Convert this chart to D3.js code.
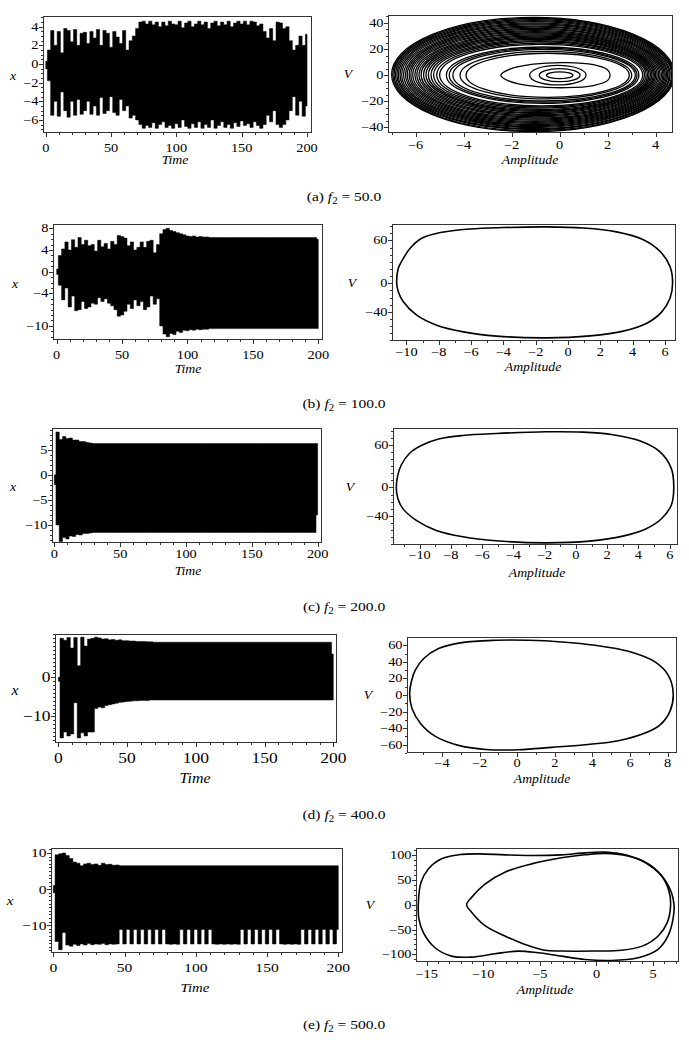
<!DOCTYPE html>
<html><head><meta charset="utf-8">
<script src="https://cdn.jsdelivr.net/npm/d3@7"></script>
<style>body{margin:0;background:#fff}svg{display:block}</style>
</head><body>
<svg id="c" width="689" height="1040"></svg>
<script>
// ---------- DATA ----------
const tStep = 2.5; // time spacing of the read envelope extrema (0..200)

// (a) f2 = 50 : upper / lower extrema of x(t)
const aUpper = [0.3,1.5,3.6,2.0,3.5,1.2,3.8,3.6,2.4,3.7, 2.0,3.3,3.4,2.2,3.5,2.8,3.7,2.0,3.6,3.3,
  1.8,3.5,2.9,2.2,3.6,1.5,2.5,3.0,3.8,4.5, 4.6,4.3,4.6,4.2,4.5,4.0,4.5,4.1,4.6,4.3,
  4.2,4.6,3.9,4.4,4.6,4.0,4.3,4.6,4.2,4.5, 3.8,4.4,4.6,4.1,4.5,4.2,4.6,4.0,4.4,4.6,
  4.3,4.6,4.2,4.6,4.5,4.1,4.3,3.5,2.8,3.8, 2.5,4.5,4.4,3.8,4.0,2.5,1.5,2.0,3.0,2.0, 3.2];
const aLower = [-0.5,-1.8,-5.5,-4.0,-5.6,-3.0,-5.0,-5.7,-4.0,-5.5, -3.8,-5.4,-5.0,-4.0,-5.4,-4.5,-5.5,-3.6,-5.3,-5.0,
  -3.5,-5.2,-5.5,-3.8,-5.0,-4.5,-5.8,-5.5,-6.0,-6.5, -6.9,-6.6,-6.8,-6.3,-6.9,-6.5,-6.2,-6.8,-6.6,-6.9,
  -6.4,-6.8,-6.0,-6.7,-6.9,-6.4,-6.8,-6.2,-6.9,-6.5, -6.8,-6.0,-6.9,-6.6,-6.2,-6.8,-6.5,-6.9,-6.3,-6.7,
  -6.1,-6.6,-6.4,-6.8,-6.2,-6.6,-6.9,-6.5,-5.5,-6.2, -5.0,-6.5,-6.8,-6.5,-6.0,-5.0,-3.5,-5.5,-4.0,-5.6, -4.5];
// phase loops (a): [xmin, xmax, vmax, vmin]
const aLoops = [
  [-7.0,4.78,44.2,-43.2],[-6.95,4.74,43.4,-42.5],[-6.9,4.7,42.6,-41.6],[-6.84,4.66,41.8,-41],
  [-6.78,4.6,41,-40.1],[-6.72,4.56,40.1,-39.4],[-6.65,4.5,39.3,-38.5],[-6.58,4.45,38.5,-37.8],
  [-6.5,4.4,37.6,-36.9],[-6.42,4.35,36.8,-36.1],[-6.35,4.3,35.9,-35.3],[-6.27,4.24,35.1,-34.4],
  [-6.2,4.18,34.2,-33.6],[-6.12,4.12,33.4,-32.8],[-6.03,4.06,32.5,-31.9],[-5.95,4.0,31.7,-31.1],
  [-5.86,3.95,30.8,-30.3],[-5.77,3.9,30,-29.4],[-5.67,3.84,29.1,-28.6],[-5.57,3.78,28.3,-27.8],
  [-5.47,3.72,27.4,-27],[-5.36,3.66,26.5,-26.2],
  [-5.25,3.6,25.6,-25.3],[-5.12,3.53,24.6,-24.4],[-5.0,3.46,23.6,-23.5],[-4.72,3.3,21.6,-21.6],[-4.6,3.22,20.7,-20.7],
  [-4.45,3.15,19.8,-19.8],[-4.15,3.0,18.2,-18.2],[-3.9,2.9,16.8,-17],
  [-1.25,1.1,7.5,-7.5],[-0.85,0.85,5,-5],[-0.55,0.55,2.6,-2.6]
];
const aEgg = [[-2.45,0],[-2.1,4.5],[-1.1,8.4],[0.3,9.6],[1.4,8],[2.0,4],[2.1,0],[2.0,-4],[1.4,-8],[0.3,-9.6],[-1.1,-8.4],[-2.1,-4.5]];

// (b) f2 = 100
const bUpper = [0.5,3.0,4.2,5.5,4.0,5.9,4.5,6.3,5.0,5.8, 4.8,5.0,3.8,5.8,4.6,5.2,4.2,5.6,5.0,6.7,
  6.5,6.2,4.8,5.5,4.0,4.5,5.5,4.5,5.6,5.8, 3.5,5.0,7.0,7.8,8.0,7.6,7.4,7.2,7.0,6.8,
  6.6,6.5,6.6,6.4,6.5,6.4,6.4,6.3,6.3,6.3, 6.3,6.3,6.3,6.3,6.3,6.3,6.3,6.3,6.3,6.3,
  6.3,6.3,6.3,6.3,6.3,6.3,6.3,6.3,6.3,6.3, 6.3,6.3,6.3,6.3,6.3,6.3,6.3,6.3,6.3,6.3, 6.0];
const bLower = [-0.5,-2.5,-5.2,-3.0,-6.5,-4.5,-7.2,-7.0,-5.5,-6.8, -6.5,-5.8,-6.0,-4.8,-5.5,-5.0,-5.8,-6.3,-7.0,-8.2,
  -8.0,-7.3,-6.0,-6.8,-5.2,-6.3,-5.5,-7.0,-6.5,-4.5, -6.0,-5.0,-10.0,-11.5,-12.0,-11.4,-11.6,-11.0,-11.2,-10.8,
  -10.9,-10.7,-10.8,-10.6,-10.7,-10.6,-10.6,-10.5,-10.5,-10.5, -10.5,-10.5,-10.5,-10.5,-10.5,-10.5,-10.5,-10.5,-10.5,-10.5,
  -10.5,-10.5,-10.5,-10.5,-10.5,-10.5,-10.5,-10.5,-10.5,-10.5, -10.5,-10.5,-10.5,-10.5,-10.5,-10.5,-10.5,-10.5,-10.5,-10.5, -10.5];
const bOrbit = [[-10.6,0],[-10.5,21],[-10.3,30.5],[-9.77,49],[-9.05,63],[-7.9,71],[-6.06,76],[-4.0,78],[-1.3,79],[0.95,77.4],
  [3.0,72],[4.66,61],[5.7,44.5],[6.31,23.4],[6.47,0],[6.31,-21],[5.8,-40],[4.87,-56],[3.42,-67],[1.36,-73.6],
  [-1.32,-76.4],[-4.41,-74],[-6.47,-68],[-8.12,-58.6],[-9.36,-44.5],[-10.19,-25.8],[-10.5,-11.7]];

// (c) f2 = 200
const cUpper = [0,8.5,7.0,7.6,7.2,7.3,6.9,6.9,6.6,6.6, 6.4,6.3,6.2,6.2,6.2,6.2,6.2,6.2,6.2,6.2,
  6.2,6.2,6.2,6.2,6.2,6.2,6.2,6.2,6.2,6.2, 6.2,6.2,6.2,6.2,6.2,6.2,6.2,6.2,6.2,6.2,
  6.2,6.2,6.2,6.2,6.2,6.2,6.2,6.2,6.2,6.2, 6.2,6.2,6.2,6.2,6.2,6.2,6.2,6.2,6.2,6.2,
  6.2,6.2,6.2,6.2,6.2,6.2,6.2,6.2,6.2,6.2, 6.2,6.2,6.2,6.2,6.2,6.2,6.2,6.2,6.2,6.2, 6.2];
const cLower = [-2,-10,-13.3,-12.5,-12.8,-12.2,-12.3,-11.9,-12.0,-11.7, -11.7,-11.6,-11.5,-11.5,-11.5,-11.5,-11.5,-11.5,-11.5,-11.5,
  -11.5,-11.5,-11.5,-11.5,-11.5,-11.5,-11.5,-11.5,-11.5,-11.5, -11.5,-11.5,-11.5,-11.5,-11.5,-11.5,-11.5,-11.5,-11.5,-11.5,
  -11.5,-11.5,-11.5,-11.5,-11.5,-11.5,-11.5,-11.5,-11.5,-11.5, -11.5,-11.5,-11.5,-11.5,-11.5,-11.5,-11.5,-11.5,-11.5,-11.5,
  -11.5,-11.5,-11.5,-11.5,-11.5,-11.5,-11.5,-11.5,-11.5,-11.5, -11.5,-11.5,-11.5,-11.5,-11.5,-11.5,-11.5,-11.5,-11.5,-11.5, -8.0];
const cOrbit = [[-11.49,0],[-11.39,17.5],[-11.17,31.6],[-10.64,48.2],[-9.79,60],[-8.72,68.5],[-7.23,73.2],[-5.09,76],[-1.89,78.4],[0.45,77.9],
  [2.37,74.2],[4.08,65.7],[5.36,50.5],[6.1,26.9],[6.26,0],[6.1,-25],[5.47,-44],[4.5,-58],[3.0,-68.5],[0.88,-75.6],
  [-1.89,-78],[-5.09,-75.1],[-7.23,-69.4],[-8.93,-60.5],[-10.21,-46.3],[-11.07,-29.8],[-11.39,-15.6]];

// (d) f2 = 400
const dUpper = [0,10.0,9.5,10.2,7.5,10.2,3.0,10.3,8.0,9.8, 10.0,10.3,10.1,9.8,9.9,9.6,9.7,9.5,9.6,9.4,
  9.4,9.3,9.3,9.2,9.2,9.15,9.1,9.1,9.0,9.0, 9.0,9.0,9.0,9.0,9.0,9.0,9.0,9.0,9.0,9.0,
  9.0,9.0,9.0,9.0,9.0,9.0,9.0,9.0,9.0,9.0, 9.0,9.0,9.0,9.0,9.0,9.0,9.0,9.0,9.0,9.0,
  9.0,9.0,9.0,9.0,9.0,9.0,9.0,9.0,9.0,9.0, 9.0,9.0,9.0,9.0,9.0,9.0,9.0,9.0,9.0,9.0, 6.0];
const dLower = [-1,-15.5,-14.0,-15.0,-14.5,-6.5,-15.5,-14.2,-15.0,-14.0, -14.0,-8.0,-7.6,-7.8,-7.2,-7.0,-6.8,-6.6,-6.4,-6.3,
  -6.2,-6.1,-6.0,-6.0,-5.9,-5.9,-5.9,-5.8,-5.8,-5.8, -5.8,-5.8,-5.8,-5.8,-5.8,-5.8,-5.8,-5.8,-5.8,-5.8,
  -5.8,-5.8,-5.8,-5.8,-5.8,-5.8,-5.8,-5.8,-5.8,-5.8, -5.8,-5.8,-5.8,-5.8,-5.8,-5.8,-5.8,-5.8,-5.8,-5.8,
  -5.8,-5.8,-5.8,-5.8,-5.8,-5.8,-5.8,-5.8,-5.8,-5.8, -5.8,-5.8,-5.8,-5.8,-5.8,-5.8,-5.8,-5.8,-5.8,-5.8, -5.8];
const dOrbit = [[-5.72,2],[-5.63,16],[-5.42,30],[-4.97,44],[-4.18,56],[-2.94,63.2],[-1.17,66],[0.6,66],[2.37,64],[4.14,60],
  [5.91,52.8],[7.33,40],[8.03,24],[8.3,2],[8.12,-20],[7.6,-36],[6.8,-46],[5.38,-55.2],[3.61,-60],[1.84,-63.2],
  [0.07,-66],[-1.52,-66],[-3.12,-60.8],[-4.35,-50],[-5.15,-34],[-5.6,-16]];

// (e) f2 = 500
const eUpper = [1,9.5,9.8,10.0,9.3,8.5,7.5,7.2,6.5,7.0, 7.2,6.8,7.0,6.6,7.2,6.8,6.9,6.6,6.7,6.5,
  6.5,6.5,6.5,6.5,6.5,6.5,6.5,6.5,6.5,6.5, 6.5,6.5,6.5,6.5,6.5,6.5,6.5,6.5,6.5,6.5,
  6.5,6.5,6.5,6.5,6.5,6.5,6.5,6.5,6.5,6.5, 6.5,6.5,6.5,6.5,6.5,6.5,6.5,6.5,6.5,6.5,
  6.5,6.5,6.5,6.5,6.5,6.5,6.5,6.5,6.5,6.5, 6.5,6.5,6.5,6.5,6.5,6.5,6.5,6.5,6.5,6.5, 6.5];
const eLower = [-1,-14.5,-16.8,-12.0,-15.5,-15.8,-15.3,-15.6,-15.2,-15.5, -15.1,-15.4,-15.2,-15.3,-15.1,-15.4,-15.2,-15.3,-15.2,-11.2,
  -15.2,-11.2,-15.2,-11.2,-15.2,-11.2,-15.2,-11.2,-15.2,-11.2, -15.2,-11.2,-15.2,-15.3,-15.2,-15.3,-11.2,-15.2,-11.2,-15.2,
  -11.2,-15.2,-11.2,-15.2,-11.2,-15.2,-15.3,-15.2,-15.3,-15.2, -15.3,-15.2,-15.3,-11.2,-15.2,-11.2,-15.2,-11.2,-15.2,-11.2,
  -15.2,-11.2,-15.2,-11.2,-15.2,-15.3,-15.2,-15.3,-15.2,-15.3, -11.2,-15.2,-11.2,-15.2,-11.2,-15.2,-11.2,-15.2,-11.2,-15.2, -11.2];
const eOuter = [[-15.74,0],[-15.5,45],[-14.85,72.5],[-13.68,93],[-12.2,101],[-10.44,103],[-8.09,101],[-5.74,99.7],[-3.09,101],[-1.03,105],
  [0.74,106.4],[2.79,99.7],[4.26,86],[5.74,59],[6.62,25],[6.85,0],[6.76,-29],[6.32,-63],[5.44,-90],[3.68,-107],
  [1.32,-112.5],[-1.03,-110.5],[-3.09,-103.7],[-5.15,-97],[-6.91,-93.6],[-8.97,-99],[-11.03,-105.8],[-12.8,-103.7],[-14.26,-86.8],[-15.29,-56.3],[-15.68,-29]];
const eInner = [[-11.47,0],[-11.03,15],[-9.85,42],[-8.09,66],[-5.74,82.7],[-3.09,95],[-1.03,101],[0.74,104],[2.79,98.5],[4.4,85],
  [5.7,60],[6.4,28],[6.55,0],[6.25,-36],[5.45,-63],[4.1,-83],[2.21,-92],[-0.15,-93.5],[-3.09,-93.5],[-4.56,-92],
  [-6.32,-80],[-8.09,-63],[-9.85,-42],[-11.03,-15]];

// tick labels
const timeTicks = [0,50,100,150,200];
const aYTicks = [-6,-4,-2,0,2,4];
const aAmpTicks = [-6,-4,-2,0,2,4], aVTicks = [-40,-20,0,20,40];
const bYTicks = [8,4,0,-4,-10];
const bAmpTicks = [-10,-8,-6,-4,-2,0,2,4,6], bVTicks = [60,0,-40];
const cYTicks = [5,0,-5,-10];
const cAmpTicks = [-10,-8,-6,-4,-2,0,2,4,6], cVTicks = [60,0,-40];
const dYTicks = [0,-10];
const dAmpTicks = [-4,-2,0,2,4,6,8], dVTicks = [-60,-40,-20,0,20,40,60];
const eYTicks = [10,0,-10];
const eAmpTicks = [-15,-10,-5,0,5], eVTicks = [-100,-50,0,50,100];
const captions = [["(a)","50.0"],["(b)","100.0"],["(c)","200.0"],["(d)","400.0"],["(e)","500.0"]];

// ---------- LAYOUT ----------
const svg = d3.select("#c");
const FONT = "'Liberation Serif','Times New Roman',serif";
const fmt = v => (v < 0 ? "\u2212" + Math.abs(v) : String(v));
function series(up, lo){ return up.map((u,i)=>({t:i*tStep,u,l:lo[i]})); }
function txt(parent, x, y, s, fs, sx, anchor, italic){
  return parent.append("text").attr("transform",`translate(${x},${y}) scale(${sx},1)`)
    .attr("text-anchor",anchor).attr("font-family",FONT).attr("font-size",fs)
    .attr("font-style",italic?"italic":"normal").attr("fill","#000").text(s);
}

const panels = [
 {kind:"ts", data:series(aUpper,aLower), fr:[43,16,312,133], xd:[-2.1,203.8], yd:[-7.4,5.15], xt:timeTicks, yt:aYTicks, xm:10, ym:0.5, xl:"Time", yl:"x", xlp:[175,164], ylp:[13,80], fs:11.5, tfs:12.5, tb:18.5},
 {kind:"loops", loops:aLoops, egg:aEgg, fr:[388,15,673,133], xd:[-7.15,4.72], yd:[-44.3,46.1], xt:aAmpTicks, yt:aVTicks, xm:1, ym:5, xl:"Amplitude", yl:"V", xlp:[530,164], ylp:[348,78], fs:11.5, tfs:12.5, tb:16},
 {kind:"ts", data:series(bUpper,bLower), fr:[53,224,323,340], xd:[-2.83,203.6], yd:[-12.6,8.8], xt:timeTicks, yt:bYTicks, xm:10, ym:1, xl:"Time", yl:"x", xlp:[188,373], ylp:[15,288], fs:11.5, tfs:12.5, tb:19},
 {kind:"orbit", orbits:[bOrbit], fr:[392,224,676,341], xd:[-10.89,6.68], yd:[-80.8,83], xt:bAmpTicks, yt:bVTicks, xm:1, ym:10, xl:"Amplitude", yl:"V", xlp:[533,371], ylp:[352,287], fs:11.5, tfs:12.5, tb:15},
 {kind:"ts", data:series(cUpper,cLower), fr:[52,428,322,543], xd:[-1.75,203.3], yd:[-13.6,9.3], xt:timeTicks, yt:cYTicks, xm:10, ym:1, xl:"Time", yl:"x", xlp:[188,575], ylp:[13,491], fs:11.5, tfs:12.5, tb:14.5},
 {kind:"orbit", orbits:[cOrbit], fr:[393,428,678,545], xd:[-11.7,6.53], yd:[-81,83.7], xt:cAmpTicks, yt:cVTicks, xm:1, ym:10, xl:"Amplitude", yl:"V", xlp:[537,577], ylp:[350,491], fs:11.5, tfs:12.5, tb:14},
 {kind:"ts", data:series(dUpper,dLower), fr:[55,634,337,743], xd:[-2.4,202.7], yd:[-16.8,11.1], xt:timeTicks, yt:dYTicks, xm:10, ym:1, xl:"Time", yl:"x", xlp:[195,783], ylp:[15,695], fs:14, tfs:14.5, tb:19.5},
 {kind:"orbit", orbits:[dOrbit], fr:[407,637,677,753], xd:[-5.86,8.5], yd:[-70,70], xt:dAmpTicks, yt:dVTicks, xm:1, ym:10, xl:"Amplitude", yl:"V", xlp:[542,783], ylp:[368,699], fs:11.5, tfs:12.5, tb:14},
 {kind:"ts", data:series(eUpper,eLower), fr:[51,848,343,953], xd:[-1.6,203.3], yd:[-17.7,11.4], xt:timeTicks, yt:eYTicks, xm:10, ym:1, xl:"Time", yl:"x", xlp:[195,992], ylp:[10,905], fs:12.5, tfs:13.5, tb:19},
 {kind:"orbit", orbits:[eOuter,eInner], fr:[416,848,679,962], xd:[-15.94,7.29], yd:[-115.6,114.8], xt:eAmpTicks, yt:eVTicks, xm:1, ym:10, xl:"Amplitude", yl:"V", xlp:[545,994], ylp:[370,909], fs:11.5, tfs:12.5, tb:16}
];
const capY = [201,408,611,819,1029];

panels.forEach((p,pi)=>{
  const [x0,y0,x1,y1] = p.fr;
  const xs = d3.scaleLinear().domain(p.xd).range([x0,x1]);
  const ys = d3.scaleLinear().domain(p.yd).range([y1,y0]);
  const g = svg.append("g");
  const cid = "clip"+pi;
  g.append("clipPath").attr("id",cid).append("rect").attr("x",x0).attr("y",y0).attr("width",x1-x0).attr("height",y1-y0);
  const body = g.append("g").attr("clip-path",`url(#${cid})`);

  if(p.kind==="ts"){
    const area = d3.area().x(d=>xs(d.t)).y0(d=>ys(d.l)).y1(d=>ys(d.u)).curve(d3.curveStep);
    body.append("path").attr("d",area(p.data)).attr("fill","#000").attr("stroke","#000").attr("stroke-width",0.5);
  } else if(p.kind==="loops"){
    p.loops.forEach(l=>{
      body.append("ellipse")
        .attr("cx",xs((l[0]+l[1])/2)).attr("rx",(xs(l[1])-xs(l[0]))/2)
        .attr("cy",ys((l[2]+l[3])/2)).attr("ry",(ys(l[3])-ys(l[2]))/2)
        .attr("fill","none").attr("stroke","#000").attr("stroke-width",1.3);
    });
    const line = d3.line().x(d=>xs(d[0])).y(d=>ys(d[1])).curve(d3.curveCatmullRomClosed.alpha(0.5));
    body.append("path").attr("d",line(p.egg)).attr("fill","none").attr("stroke","#000").attr("stroke-width",1.3);
  } else {
    const line = d3.line().x(d=>xs(d[0])).y(d=>ys(d[1])).curve(d3.curveCatmullRomClosed.alpha(0.5));
    p.orbits.forEach(o=>{
      body.append("path").attr("d",line(o)).attr("fill","none").attr("stroke","#000").attr("stroke-width",1.6);
    });
  }

  g.append("rect").attr("x",x0+0.5).attr("y",y0+0.5).attr("width",x1-x0-1).attr("height",y1-y0-1)
    .attr("fill","none").attr("stroke","#333").attr("stroke-width",1);

  const ax = g.append("g").attr("stroke","#333").attr("stroke-width",1);
  const xmStart = Math.ceil(p.xd[0]/p.xm)*p.xm;
  d3.range(xmStart, p.xd[1], p.xm).forEach(v=>{
    const X = Math.round(xs(v))+0.5;
    ax.append("line").attr("x1",X).attr("x2",X).attr("y1",y1).attr("y2",y1+2);
  });
  const ymStart = Math.ceil(p.yd[0]/p.ym)*p.ym;
  d3.range(ymStart, p.yd[1], p.ym).forEach(v=>{
    const Y = Math.round(ys(v))+0.5;
    ax.append("line").attr("x1",x0-2).attr("x2",x0).attr("y1",Y).attr("y2",Y);
  });
  p.xt.forEach(v=>{
    const X = Math.round(xs(v))+0.5;
    ax.append("line").attr("x1",X).attr("x2",X).attr("y1",y1).attr("y2",y1+4);
    txt(g, xs(v), y1+p.tb, fmt(v), p.fs, 1.25, "middle", false);
  });
  p.yt.forEach(v=>{
    const Y = Math.round(ys(v))+0.5;
    ax.append("line").attr("x1",x0-4).attr("x2",x0).attr("y1",Y).attr("y2",Y);
    txt(g, x0-4.5, ys(v)+p.fs*0.35, fmt(v), p.fs, 1.25, "end", false);
  });
  txt(g, p.xlp[0], p.xlp[1], p.xl, p.tfs, 1.1, "middle", true);
  txt(g, p.ylp[0], p.ylp[1], p.yl, p.tfs, 1.1, "middle", true);
});

captions.forEach((c,i)=>{
  const t = svg.append("text").attr("transform",`translate(344,${capY[i]}) scale(1.15,1)`).attr("text-anchor","middle")
    .attr("font-family",FONT).attr("font-size",13.5).attr("fill","#000");
  t.append("tspan").text(c[0]+" ");
  t.append("tspan").attr("font-style","italic").text("f");
  t.append("tspan").attr("font-size",9.5).attr("dy",3).text("2");
  t.append("tspan").attr("dy",-3).text(" = "+c[1]);
});
</script>
</body></html>
